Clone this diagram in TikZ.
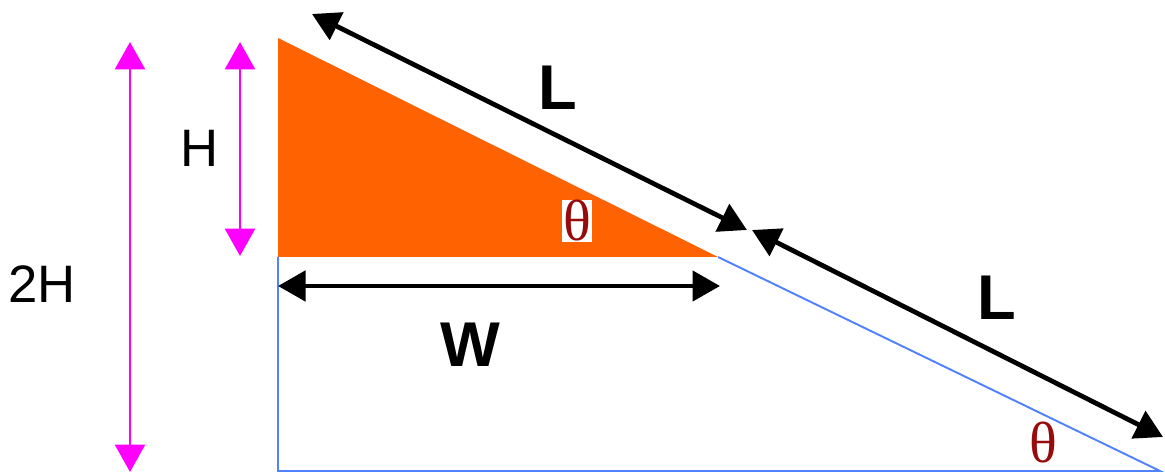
\documentclass[tikz,border=0pt]{standalone}
\usepackage{fontspec}
\setmainfont{Liberation Sans}
\newfontfamily\greekfont{Liberation Serif}
\usetikzlibrary{arrows.meta}
\definecolor{wedgeorange}{RGB}{255,98,0}
\definecolor{rimblue}{RGB}{80,130,255}
\definecolor{spanpink}{RGB}{255,0,255}
\definecolor{angred}{RGB}{150,12,12}

\begin{document}
\begin{tikzpicture}[x=0.02cm, y=-0.02cm,
      dim/.style={{Triangle[width=0.6cm,length=0.55cm]}-{Triangle[width=0.6cm,length=0.55cm]}, line width=2.7pt},
      hdim/.style={{Triangle[width=0.6cm,length=0.55cm]}-{Triangle[width=0.6cm,length=0.55cm]}, line width=1.7pt, spanpink},
      big/.style={font=\bfseries\fontsize{36}{40}\selectfont},
      small/.style={font=\fontsize{30}{34}\selectfont},
      ang/.style={text=angred, inner sep=0.5pt, font=\greekfont\fontsize{33}{36}\selectfont}]

    \useasboundingbox (0,0) rectangle (1165,475);

    % corners of the two ramps
    \coordinate (top) at (278,38);
    \coordinate (mid) at (278,257);
    \coordinate (tip) at (718,257);
    \coordinate (base) at (278,471);
    \coordinate (foot) at (1160,471);

    \fill[wedgeorange] (top) -- (mid) -- (tip) -- cycle;
    \draw[rimblue, line width=1.1pt] (mid) -- (base) -- (foot) -- (tip);

    % ends of the dimension arrows
    \coordinate (l1a) at (312,14);
    \coordinate (l1b) at (747,230);
    \coordinate (l2a) at (752,230);
    \coordinate (l2b) at (1163,437);
    \coordinate (wa) at (278,286);
    \coordinate (wb) at (720,286);
    \coordinate (ha) at (240,42);
    \coordinate (hb) at (240,256);
    \coordinate (h2a) at (130,42);
    \coordinate (h2b) at (130,472);

    \draw[dim] (l1a) -- (l1b);
    \draw[dim] (l2a) -- (l2b);
    \draw[dim] (wa) -- (wb);
    \draw[hdim] (ha) -- (hb);
    \draw[hdim] (h2a) -- (h2b);

    \node[big] (lup) at (558,88) {L};
    \node[big] (llow) at (997,298) {L};
    \node[big] (wlab) at (470,345) {W};
    \node[small] (hlab) at (200,148) {H};
    \node[small] (h2lab) at (42,284) {2H};
    \node[ang, fill=white] (th1) at (577,221) {θ};
    \node[ang] (th2) at (1043,443) {θ};
  \end{tikzpicture}
\end{document}
